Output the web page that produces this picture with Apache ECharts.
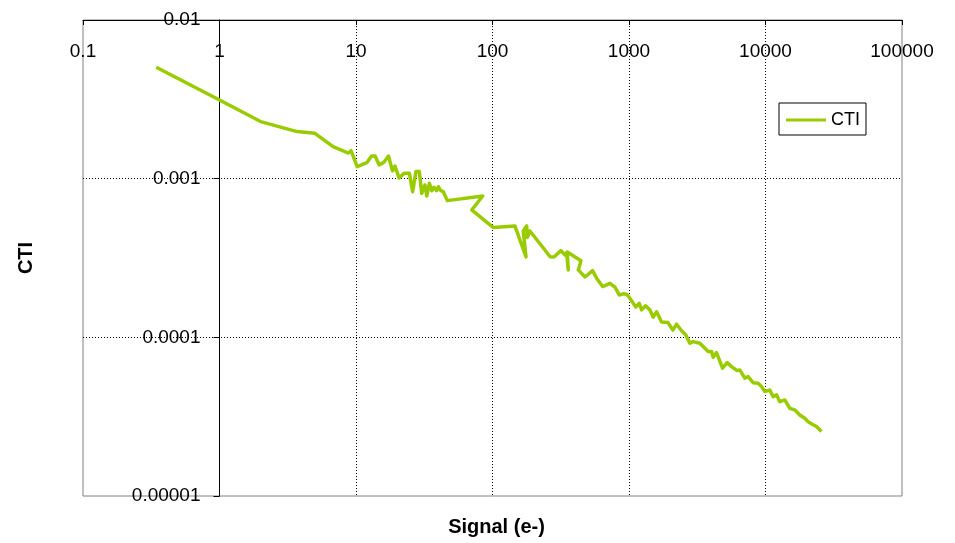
<!DOCTYPE html>
<html>
<head>
<meta charset="utf-8">
<script src="https://cdn.jsdelivr.net/npm/echarts@6/dist/echarts.min.js"></script>
<style>
  html, body { margin: 0; padding: 0; background: #ffffff; }
  #chart { width: 955px; height: 543px; }
</style>
</head>
<body>
<div id="chart"></div>
<script>
// Charge transfer inefficiency versus signal level (electrons)
const signal = [
  0.344, 1, 2, 3.7, 5, 6.8, 8.8, 9.2, 10.2, 12, 13, 13.8, 14.8, 16, 17.3, 18.5, 19.3, 20.7,
  22.5, 24.6, 26, 27.5, 29.1, 30.3, 32, 33, 34.5, 35.9, 37.3, 39, 40.1, 41.8, 43.6, 46.7,
  84.8, 70.4, 101, 146, 176, 168, 178, 180, 188, 242, 264, 282, 317, 340, 349, 359, 353,
  445, 425, 476, 541, 579, 641, 725, 789, 848, 907, 960, 1003, 1123, 1188, 1237, 1323,
  1422, 1504, 1593, 1733, 1927, 2096, 2231, 2427, 2610, 2791, 2951, 3304, 3800, 4024,
  4134, 4378, 4843, 5234, 5637, 6196, 6484, 7056, 7458, 8113, 8829, 9348, 9884, 10750,
  11370, 12040, 12730, 13850, 15070, 16390, 17830, 19400, 20510, 22310, 23630, 25700
];
const cti = [
  0.00504, 0.00313, 0.00229, 0.00198, 0.00193, 0.00159, 0.00145, 0.0015, 0.00119, 0.00126,
  0.00139, 0.00139, 0.00122, 0.00127, 0.00139, 0.00112, 0.0012, 0.00101, 0.00108, 0.00108,
  0.000828, 0.00111, 0.00111, 0.000809, 0.000913, 0.000778, 0.000935, 0.00084, 0.000883,
  0.00084, 0.00089, 0.00084, 0.000828, 0.000727, 0.000778, 0.000635, 0.000493, 0.000504,
  0.000321, 0.000468, 0.000504, 0.000426, 0.000468, 0.000355, 0.000322, 0.000321, 0.000352,
  0.00033, 0.000342, 0.000266, 0.000345, 0.000304, 0.000266, 0.00024, 0.000263, 0.000236,
  0.000209, 0.000219, 0.000207, 0.000185, 0.000188, 0.000187, 0.000179, 0.000155, 0.000164,
  0.000149, 0.000158, 0.000149, 0.000134, 0.000145, 0.000125, 0.000124, 0.000111, 0.000121,
  0.00011, 0.0001035, 0.0000918, 0.000094, 0.0000918, 0.0000813, 0.0000813, 0.0000749,
  0.0000801, 0.0000639, 0.0000693, 0.0000654, 0.0000617, 0.0000623, 0.0000553, 0.0000566,
  0.0000518, 0.0000514, 0.0000489, 0.0000455, 0.0000466, 0.0000423, 0.0000434, 0.0000393,
  0.0000403, 0.0000357, 0.0000349, 0.0000324, 0.0000309, 0.0000294, 0.0000281, 0.0000274,
  0.0000255
];
const xTickLabels = ['0.1', '1', '10', '100', '1000', '10000', '100000'];
const yTickLabels = ['0.00001', '0.0001', '0.001', '0.01'];
const seriesName = 'CTI';
const xName = 'Signal (e-)';
const yName = 'CTI';

const X_MIN = 0.1, X_MAX = 100000, Y_MIN = 0.00001, Y_MAX = 0.01;
const W = 955, H = 543;
const grid = { left: 83, right: 53, top: 20, bottom: 47 };
const gridW = W - grid.left - grid.right;
const gridH = H - grid.top - grid.bottom;
// the vertical axis crosses the horizontal one at signal = 1
const yAxisShift = gridW * (Math.log10(1) - Math.log10(X_MIN)) / (Math.log10(X_MAX) - Math.log10(X_MIN));

const font = '"Liberation Sans", Arial, sans-serif';
const dotted = { color: '#000', width: 1, type: [1, 2] };
const lineColor = '#99cc00';

const chart = echarts.init(document.getElementById('chart'), null, { renderer: 'canvas' });
chart.setOption({
  animation: false,
  backgroundColor: '#ffffff',
  grid: Object.assign({ show: true, borderColor: '#808080', borderWidth: 1, backgroundColor: 'transparent' }, grid),
  legend: {
    data: [seriesName],
    left: 779, top: 103,
    backgroundColor: '#ffffff',
    borderColor: '#000', borderWidth: 1,
    padding: [8, 6, 6, 7],
    icon: 'rect',
    itemWidth: 40, itemHeight: 3,
    textStyle: { fontFamily: font, fontSize: 18, color: '#000' }
  },
  xAxis: {
    type: 'log', logBase: 10, min: X_MIN, max: X_MAX,
    position: 'top',
    axisLine: { show: true, lineStyle: { color: '#000', width: 1 } },
    axisTick: { show: true, inside: true, length: 5, lineStyle: { color: '#000' } },
    axisLabel: {
      inside: true, margin: 22, fontFamily: font, fontSize: 19, color: '#000',
      formatter: v => xTickLabels[Math.round(Math.log10(v)) + 1]
    },
    splitLine: { show: true, showMinLine: false, showMaxLine: false, lineStyle: dotted }
  },
  yAxis: {
    type: 'log', logBase: 10, min: Y_MIN, max: Y_MAX,
    position: 'left',
    offset: -yAxisShift,
    axisLine: { show: true, onZero: false, lineStyle: { color: '#000', width: 1 } },
    axisTick: { show: true, inside: false, length: 6, lineStyle: { color: '#000' } },
    axisLabel: {
      margin: 19, fontFamily: font, fontSize: 19, color: '#000',
      formatter: v => yTickLabels[Math.round(Math.log10(v)) + 5]
    },
    splitLine: { show: true, showMinLine: false, showMaxLine: false, lineStyle: dotted }
  },
  series: [{
    name: seriesName,
    type: 'line',
    data: signal.map((s, i) => [s, cti[i]]),
    symbol: 'none',
    smooth: false,
    lineStyle: { color: lineColor, width: 3.5, join: 'round' },
    itemStyle: { color: lineColor }
  }],
  graphic: [
    {
      type: 'text', x: grid.left + gridW / 2 + 4, y: 527,
      style: { text: xName, font: 'bold 20px ' + font, fill: '#000', textAlign: 'center', textVerticalAlign: 'middle' }
    },
    {
      type: 'text', x: 26, y: grid.top + gridH / 2, rotation: Math.PI / 2,
      style: { text: yName, font: 'bold 20px ' + font, fill: '#000', textAlign: 'center', textVerticalAlign: 'middle' }
    }
  ]
});
</script>
</body>
</html>
